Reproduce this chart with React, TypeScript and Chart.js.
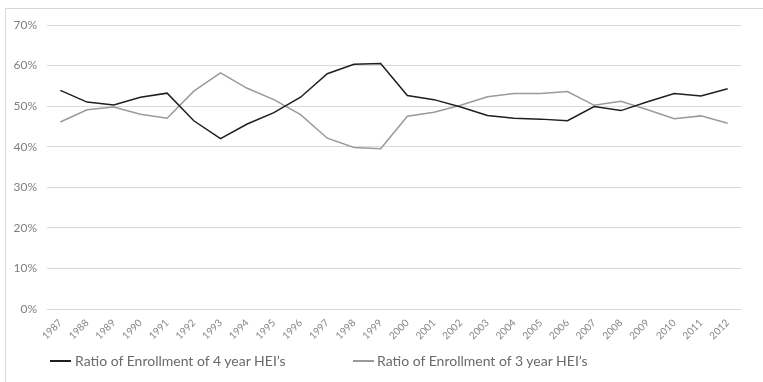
import React, { useEffect, useRef } from "react";
import { Chart, registerables } from "chart.js";

Chart.register(...registerables);

const years = [
  "1987", "1988", "1989", "1990", "1991", "1992", "1993", "1994", "1995", "1996",
  "1997", "1998", "1999", "2000", "2001", "2002", "2003", "2004", "2005", "2006",
  "2007", "2008", "2009", "2010", "2011", "2012",
];

const fourYear = [
  53.9, 51.0, 50.3, 52.2, 53.2, 46.4, 42.0, 45.6, 48.4, 52.2,
  58.0, 60.3, 60.5, 52.6, 51.6, 49.8, 47.7, 47.0, 46.8, 46.4,
  49.9, 48.9, 51.1, 53.1, 52.5, 54.3,
];

const threeYear = [
  46.1, 49.1, 49.8, 48.0, 47.0, 53.7, 58.2, 54.4, 51.6, 47.9,
  42.1, 39.8, 39.5, 47.5, 48.5, 50.2, 52.3, 53.1, 53.1, 53.6,
  50.2, 51.2, 49.1, 46.9, 47.6, 45.8,
];

const seriesLabels = ["Ratio of Enrollment of 4 year HEI\u2019s", "Ratio of Enrollment of 3 year HEI\u2019s"];
const seriesColors = ["#1f1f1f", "#9a9a9a"];

export default function App() {
  const canvasRef = useRef<HTMLCanvasElement | null>(null);

  useEffect(() => {
    document.body.style.margin = "0";
    const ctx = canvasRef.current;
    if (!ctx) return;
    const chart = new Chart(ctx, {
      type: "line",
      data: {
        labels: years,
        datasets: [
          {
            label: seriesLabels[0],
            data: fourYear,
            borderColor: seriesColors[0],
            backgroundColor: seriesColors[0],
            borderWidth: 1.5,
            pointRadius: 0,
            tension: 0,
          },
          {
            label: seriesLabels[1],
            data: threeYear,
            borderColor: seriesColors[1],
            backgroundColor: seriesColors[1],
            borderWidth: 1.5,
            pointRadius: 0,
            tension: 0,
          },
        ],
      },
      options: {
        animation: false,
        responsive: false,
        maintainAspectRatio: false,
        layout: { padding: { left: 0, right: 22, top: 25, bottom: 0 } },
        plugins: {
          legend: { display: false },
          tooltip: { enabled: false },
        },
        scales: {
          x: {
            offset: true,
            grid: { display: false, drawTicks: false },
            border: { display: false },
            ticks: {
              autoSkip: false,
              maxRotation: 45,
              minRotation: 45,
              padding: 8,
              color: "#858585",
              font: { family: "Lato", size: 10 },
            },
            afterFit: (scale: any) => {
              scale.height = 73;
            },
          },
          y: {
            min: 0,
            max: 70,
            grid: { color: "#d9d9d9", lineWidth: 1, drawTicks: false },
            border: { display: false },
            ticks: {
              stepSize: 10,
              padding: 10,
              color: "#7f7f7f",
              font: { family: "Lato", size: 12 },
              callback: (v: any) => v + "%",
            },
            afterFit: (scale: any) => {
              scale.width = 47;
            },
          },
        },
      },
    });
    return () => chart.destroy();
  }, []);

  const legendText: React.CSSProperties = {
    position: "absolute",
    top: 352,
    fontFamily: "Lato, sans-serif",
    fontSize: 14,
    color: "#6a6a6a",
    whiteSpace: "nowrap",
    lineHeight: "18px",
  };

  return (
    <div style={{ position: "relative", width: 763, height: 382, overflow: "hidden", background: "#fff" }}>
      <div
        style={{
          position: "absolute",
          left: 5,
          top: 8,
          width: 800,
          height: 400,
          borderTop: "1px solid #d9d9d9",
          borderLeft: "1px solid #d9d9d9",
        }}
      />
      <canvas ref={canvasRef} width={763} height={382} style={{ position: "absolute", left: 0, top: 0 }} />
      <div style={{ position: "absolute", left: 50, top: 360, width: 21, height: 2, background: seriesColors[0] }} />
      <div style={{ ...legendText, left: 75 }}>{seriesLabels[0]}</div>
      <div style={{ position: "absolute", left: 353, top: 360, width: 21, height: 2, background: seriesColors[1] }} />
      <div style={{ ...legendText, left: 377 }}>{seriesLabels[1]}</div>
    </div>
  );
}
